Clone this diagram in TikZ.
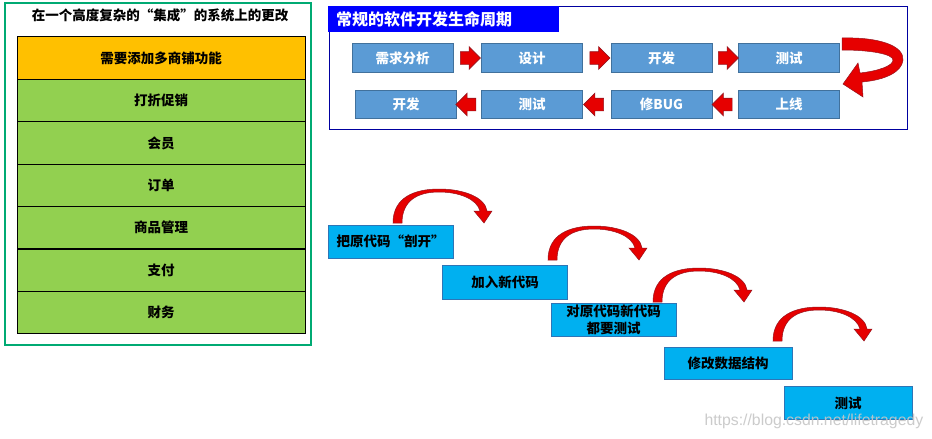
\documentclass[tikz,border=0pt]{standalone}
\usepackage{fontspec}
\setmainfont{Noto Sans CJK SC}
\newfontfamily\urlfont{Liberation Sans}
\usepackage{tikz}
\usetikzlibrary{shapes.arrows,positioning,calc}
\definecolor{frameGreen}{RGB}{0,170,115}
\definecolor{modOrange}{RGB}{255,192,0}
\definecolor{modGreen}{RGB}{146,208,80}
\definecolor{frameBlue}{RGB}{0,0,160}
\definecolor{titleBlue}{RGB}{0,0,255}
\definecolor{stepBlue}{RGB}{91,155,213}
\definecolor{stepEdge}{RGB}{65,113,156}
\definecolor{taskCyan}{RGB}{0,176,240}
\definecolor{taskEdge}{RGB}{46,117,182}
\definecolor{arrowRed}{RGB}{230,0,0}
\definecolor{arrowEdge}{RGB}{150,20,30}

\begin{document}
\begin{tikzpicture}[x=1pt, y=-1pt,
  every node/.style={font=\fontsize{13.5}{17}\selectfont\bfseries},
  modbox/.style={draw=black, line width=0.9pt, fill=modGreen, minimum width=288pt, minimum height=42.4pt, inner sep=0pt},
  stepbox/.style={draw=stepEdge, line width=0.8pt, fill=stepBlue, text=white, minimum width=101pt, minimum height=28.5pt, inner sep=0pt},
  taskbox/.style={draw=taskEdge, line width=0.8pt, fill=taskCyan, minimum width=125pt, minimum height=33pt, inner sep=0pt, align=center},
  flowarrow/.style={single arrow, draw=arrowEdge, line width=0.6pt, fill=arrowRed, minimum height=20pt, inner xsep=0pt, inner ysep=6pt, single arrow head extend=5pt, single arrow head indent=0pt},
  bendarrow/.pic={
    \filldraw[fill=arrowRed, draw=arrowEdge, line width=0.5pt] (0,0) .. controls (0,-26) and (22,-34) .. (46,-34) .. controls (70,-34) and (92,-26) .. (94,-12) -- (99,-12) -- (91,0) -- (81,-12) -- (87,-12) .. controls (84,-24) and (66,-31) .. (46,-31) .. controls (24,-31) and (9,-22) .. (9,0) -- cycle;
  }]
  \useasboundingbox (0,0) rectangle (932,439);
  \fill[white] (0,0) rectangle (932,439);

  % Integrated system
  \draw[frameGreen, line width=1.2pt] (5,3) rectangle (311,345);
  \node (sys) at (160,15) {在一个高度复杂的“集成”的系统上的更改};
  \node[modbox, fill=modOrange] (shop) at (161,58) {需要添加多商铺功能};
  \node[modbox] (promo) at (161,100.4) {打折促销};
  \node[modbox] (member) at (161,142.9) {会员};
  \node[modbox] (order) at (161,185.3) {订单};
  \node[modbox] (goods) at (161,227.7) {商品管理};
  \node[modbox] (pay) at (161,270.2) {支付};
  \node[modbox] (fin) at (161,312.6) {财务};

  % Life cycle
  \draw[frameBlue, line width=1pt] (329,6) rectangle (907,129);
  \node[fill=titleBlue, text=white, font=\fontsize{16}{18}\selectfont\bfseries, text width=215pt, inner xsep=8pt, inner ysep=0pt, minimum height=26pt, align=left, anchor=north west] (sdlc) at (328,6) {常规的软件开发生命周期};
  \node[stepbox] (req) at (402.5,58) {需求分析};
  \node[stepbox] (des) at (532,58) {设计};
  \node[stepbox] (dev) at (661.5,58) {开发};
  \node[stepbox] (tst) at (789,58) {测试};
  \node[stepbox] (rel) at (789,104.5) {上线};
  \node[stepbox] (bug) at (661.5,104.5) {修BUG};
  \node[stepbox] (retst) at (532,104.5) {测试};
  \node[stepbox] (redev) at (406,104.5) {开发};
  % Arrows
  \node[flowarrow] (f1) at ($(req.east)!0.5!(des.west)$) {};
  \node[flowarrow] (f2) at ($(des.east)!0.5!(dev.west)$) {};
  \node[flowarrow] (f3) at ($(dev.east)!0.5!(tst.west)$) {};
  \node[flowarrow, shape border rotate=180] (f4) at ($(rel.west)!0.5!(bug.east)$) {};
  \node[flowarrow, shape border rotate=180] (f5) at ($(bug.west)!0.5!(retst.east)$) {};
  \node[flowarrow, shape border rotate=180] (f6) at ($(retst.west)!0.5!(redev.east)$) {};
  \filldraw[fill=arrowRed, draw=arrowEdge, line width=0.5pt] (842,38) .. controls (880,37) and (904,46) .. (903,60) .. controls (902,72) and (885,80) .. (862,82) -- (863,97) -- (843,84) -- (858,63) -- (860,73) .. controls (878,71) and (893,66) .. (893,60) .. controls (893,54) and (870,50) .. (842,50) -- cycle;

  % Changes
  \node[taskbox] (cut) at (390.5,241.5) {把原代码“剖开”};
  \node[taskbox, minimum height=34pt] (add) at (505,282) {加入新代码};
  \node[taskbox] (check) at (613.5,319.5) {对原代码新代码\\都要测试};
  \node[taskbox, minimum width=128pt, minimum height=32pt] (schema) at (728,363) {修改数据结构};
  \node[taskbox, minimum width=128pt] (final) at (848,403) {测试};
  \pic at (393,223) {bendarrow};
  \pic at (548,260) {bendarrow};
  \pic at (653,302) {bendarrow};
  \pic at (773,341) {bendarrow};

  \node[font=\urlfont\fontsize{15.8}{18}\selectfont, text=gray!45, opacity=0.9, anchor=west] (mark) at (701,421) {https://blog.csdn.net/lifetragedy};
\end{tikzpicture}
\end{document}
